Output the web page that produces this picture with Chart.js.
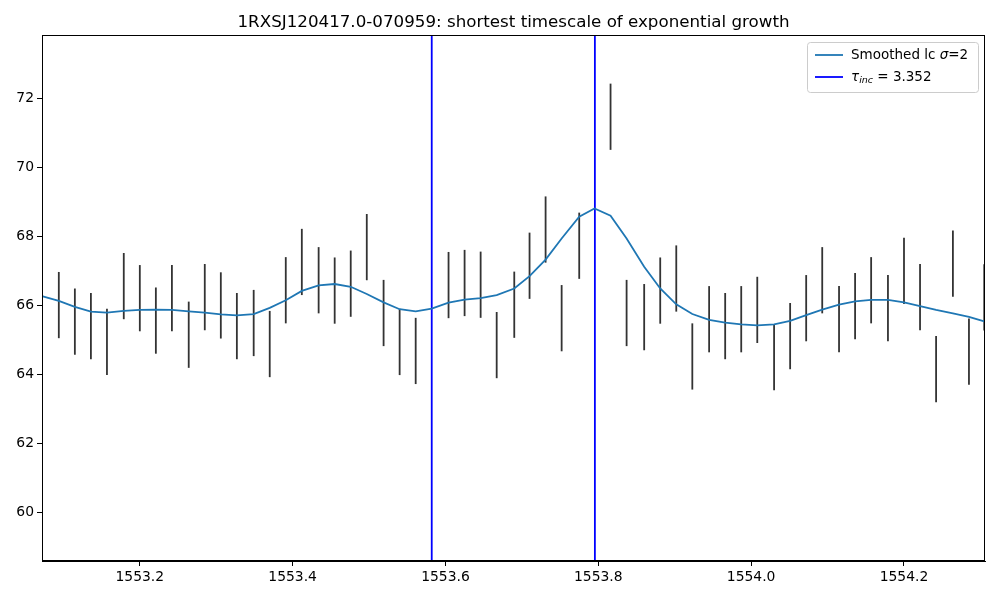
<!DOCTYPE html>
<html>
<head>
<meta charset="utf-8">
<script src="https://cdn.jsdelivr.net/npm/chart.js@4/dist/chart.umd.min.js"></script>
<style>body{margin:0;background:#fff}#wrap{width:1000px;height:600px}</style>
</head>
<body>
<div id="wrap"><canvas id="c"></canvas></div>
<script>
const obsX = [1553.094,1553.115,1553.136,1553.157,1553.179,1553.200,1553.221,1553.242,1553.264,1553.285,1553.306,1553.327,1553.349,1553.370,1553.391,1553.412,1553.434,1553.455,1553.476,1553.497,1553.519,1553.540,1553.561,1553.604,1553.625,1553.646,1553.667,1553.690,1553.710,1553.731,1553.752,1553.775,1553.816,1553.837,1553.860,1553.881,1553.902,1553.923,1553.945,1553.966,1553.987,1554.008,1554.030,1554.051,1554.072,1554.093,1554.115,1554.136,1554.157,1554.179,1554.200,1554.221,1554.242,1554.264,1554.285,1554.305];
const obsY = [66.00,65.52,65.39,64.93,66.55,66.20,65.55,66.20,65.14,66.23,65.99,65.39,65.48,64.87,66.43,67.25,66.72,66.42,66.62,67.68,65.77,64.93,64.67,66.58,66.64,66.59,64.84,66.01,67.14,68.19,65.62,67.72,71.46,65.77,65.65,66.42,66.77,64.51,65.59,65.39,65.59,65.86,64.49,65.10,65.91,66.72,65.59,65.97,66.43,65.91,66.99,66.23,64.14,67.20,64.65,66.22];
const obsErr = 0.96;

const smoothX = [1553.073,1553.094,1553.115,1553.136,1553.157,1553.179,1553.200,1553.221,1553.242,1553.264,1553.285,1553.306,1553.327,1553.349,1553.370,1553.391,1553.412,1553.434,1553.455,1553.476,1553.497,1553.519,1553.540,1553.561,1553.582,1553.604,1553.625,1553.646,1553.667,1553.690,1553.710,1553.731,1553.752,1553.775,1553.795,1553.816,1553.837,1553.860,1553.881,1553.902,1553.923,1553.945,1553.966,1553.987,1554.008,1554.030,1554.051,1554.072,1554.093,1554.115,1554.136,1554.157,1554.179,1554.200,1554.221,1554.242,1554.264,1554.285,1554.305];
const smoothY = [66.25,66.12,65.95,65.81,65.78,65.83,65.86,65.87,65.86,65.82,65.78,65.73,65.70,65.74,65.92,66.14,66.41,66.57,66.61,66.53,66.32,66.08,65.88,65.82,65.90,66.07,66.16,66.20,66.29,66.48,66.84,67.32,67.93,68.56,68.80,68.59,67.93,67.11,66.48,66.02,65.74,65.57,65.49,65.44,65.41,65.44,65.54,65.71,65.87,66.01,66.11,66.15,66.15,66.08,65.97,65.86,65.76,65.66,65.53];

const vLines = [1553.582, 1553.7955];
const tauInc = "3.352";
const xTicks = [1553.2,1553.4,1553.6,1553.8,1554.0,1554.2];
const yTicks = [60,62,64,66,68,70,72];
const titleText = "1RXSJ120417.0-070959: shortest timescale of exponential growth";

const FONT = "'DejaVu Sans', sans-serif";

const extras = {
  id: "extras",
  beforeDatasetsDraw(chart) {
    const { ctx, scales: { x, y }, chartArea: a } = chart;
    ctx.save();
    ctx.beginPath(); ctx.rect(a.left, a.top, a.right - a.left, a.bottom - a.top); ctx.clip();
    ctx.strokeStyle = "#333"; ctx.lineWidth = 1.8;
    obsX.forEach((vx, i) => {
      const px = x.getPixelForValue(vx);
      ctx.beginPath();
      ctx.moveTo(px, y.getPixelForValue(obsY[i] - obsErr));
      ctx.lineTo(px, y.getPixelForValue(obsY[i] + obsErr));
      ctx.stroke();
    });
    ctx.strokeStyle = "#0000ff"; ctx.lineWidth = 1.8;
    vLines.forEach(v => {
      const px = x.getPixelForValue(v);
      ctx.beginPath(); ctx.moveTo(px, a.top); ctx.lineTo(px, a.bottom); ctx.stroke();
    });
    ctx.restore();
  },
  afterDraw(chart) {
    const { ctx, chartArea: a } = chart;
    ctx.save();
    ctx.fillStyle = "#000"; ctx.font = "16.7px " + FONT; ctx.textAlign = "center"; ctx.textBaseline = "alphabetic";
    ctx.fillText(titleText, (a.left + a.right) / 2, 27);
    ctx.strokeStyle = "#000"; ctx.lineWidth = 1;
    ctx.strokeRect(a.left + 0.5, a.top + 0.5, a.right - a.left - 1, a.bottom - a.top - 1);
    // legend
    const lx = 807, ly = 42, lw = 171, lh = 50;
    ctx.fillStyle = "rgba(255,255,255,0.8)"; ctx.strokeStyle = "#ccc";
    ctx.beginPath(); ctx.roundRect(lx + 0.5, ly + 0.5, lw, lh, 3); ctx.fill(); ctx.stroke();
    ctx.lineWidth = 1.8;
    ctx.strokeStyle = "#1f77b4"; ctx.beginPath(); ctx.moveTo(lx + 8, ly + 13); ctx.lineTo(lx + 36, ly + 13); ctx.stroke();
    ctx.strokeStyle = "#0000ff"; ctx.beginPath(); ctx.moveTo(lx + 8, ly + 35); ctx.lineTo(lx + 36, ly + 35); ctx.stroke();
    ctx.fillStyle = "#000"; ctx.textAlign = "left"; ctx.textBaseline = "middle";
    ctx.font = "13.5px " + FONT;
    let t = "Smoothed lc ";
    ctx.fillText(t, lx + 44, ly + 13);
    let w = ctx.measureText(t).width;
    ctx.font = "italic 13.5px " + FONT; ctx.fillText("σ", lx + 44 + w, ly + 13);
    w += ctx.measureText("σ").width;
    ctx.font = "13.5px " + FONT; ctx.fillText("=2", lx + 44 + w, ly + 13);
    ctx.font = "italic 13.5px " + FONT; ctx.fillText("τ", lx + 44, ly + 35);
    w = ctx.measureText("τ").width;
    ctx.font = "italic 9.5px " + FONT; ctx.fillText("inc", lx + 44 + w, ly + 39);
    w += ctx.measureText("inc").width;
    ctx.font = "13.5px " + FONT; ctx.fillText(" = " + tauInc, lx + 44 + w, ly + 35);
    ctx.restore();
  }
};

new Chart(document.getElementById("c"), {
  type: "line",
  data: {
    datasets: [{
      label: "Smoothed lc",
      data: smoothX.map((v, i) => ({ x: v, y: smoothY[i] })),
      borderColor: "#1f77b4", borderWidth: 1.8, pointRadius: 0, tension: 0, fill: false
    }]
  },
  options: {
    responsive: true, maintainAspectRatio: false, animation: false,
    layout: { padding: { top: 35, right: 15, left: 0, bottom: 0 } },
    plugins: { legend: { display: false }, tooltip: { enabled: false } },
    scales: {
      x: {
        type: "linear", min: 1553.072, max: 1554.306,
        afterBuildTicks: s => { s.ticks = xTicks.map(v => ({ value: v })); },
        afterFit: s => { s.height = 39; },
        grid: { drawOnChartArea: false, tickLength: 5, color: "#000" },
        border: { color: "#000" },
        ticks: { color: "#000", font: { family: FONT, size: 13.9 }, padding: 3, callback: v => v.toFixed(1) }
      },
      y: {
        min: 58.58, max: 73.83,
        afterBuildTicks: s => { s.ticks = yTicks.map(v => ({ value: v })); },
        afterFit: s => { s.width = 42; },
        grid: { drawOnChartArea: false, tickLength: 5, color: "#000" },
        border: { color: "#000" },
        ticks: { color: "#000", font: { family: FONT, size: 13.9 }, padding: 3, callback: v => String(v) }
      }
    }
  },
  plugins: [extras]
});
</script>
</body>
</html>
